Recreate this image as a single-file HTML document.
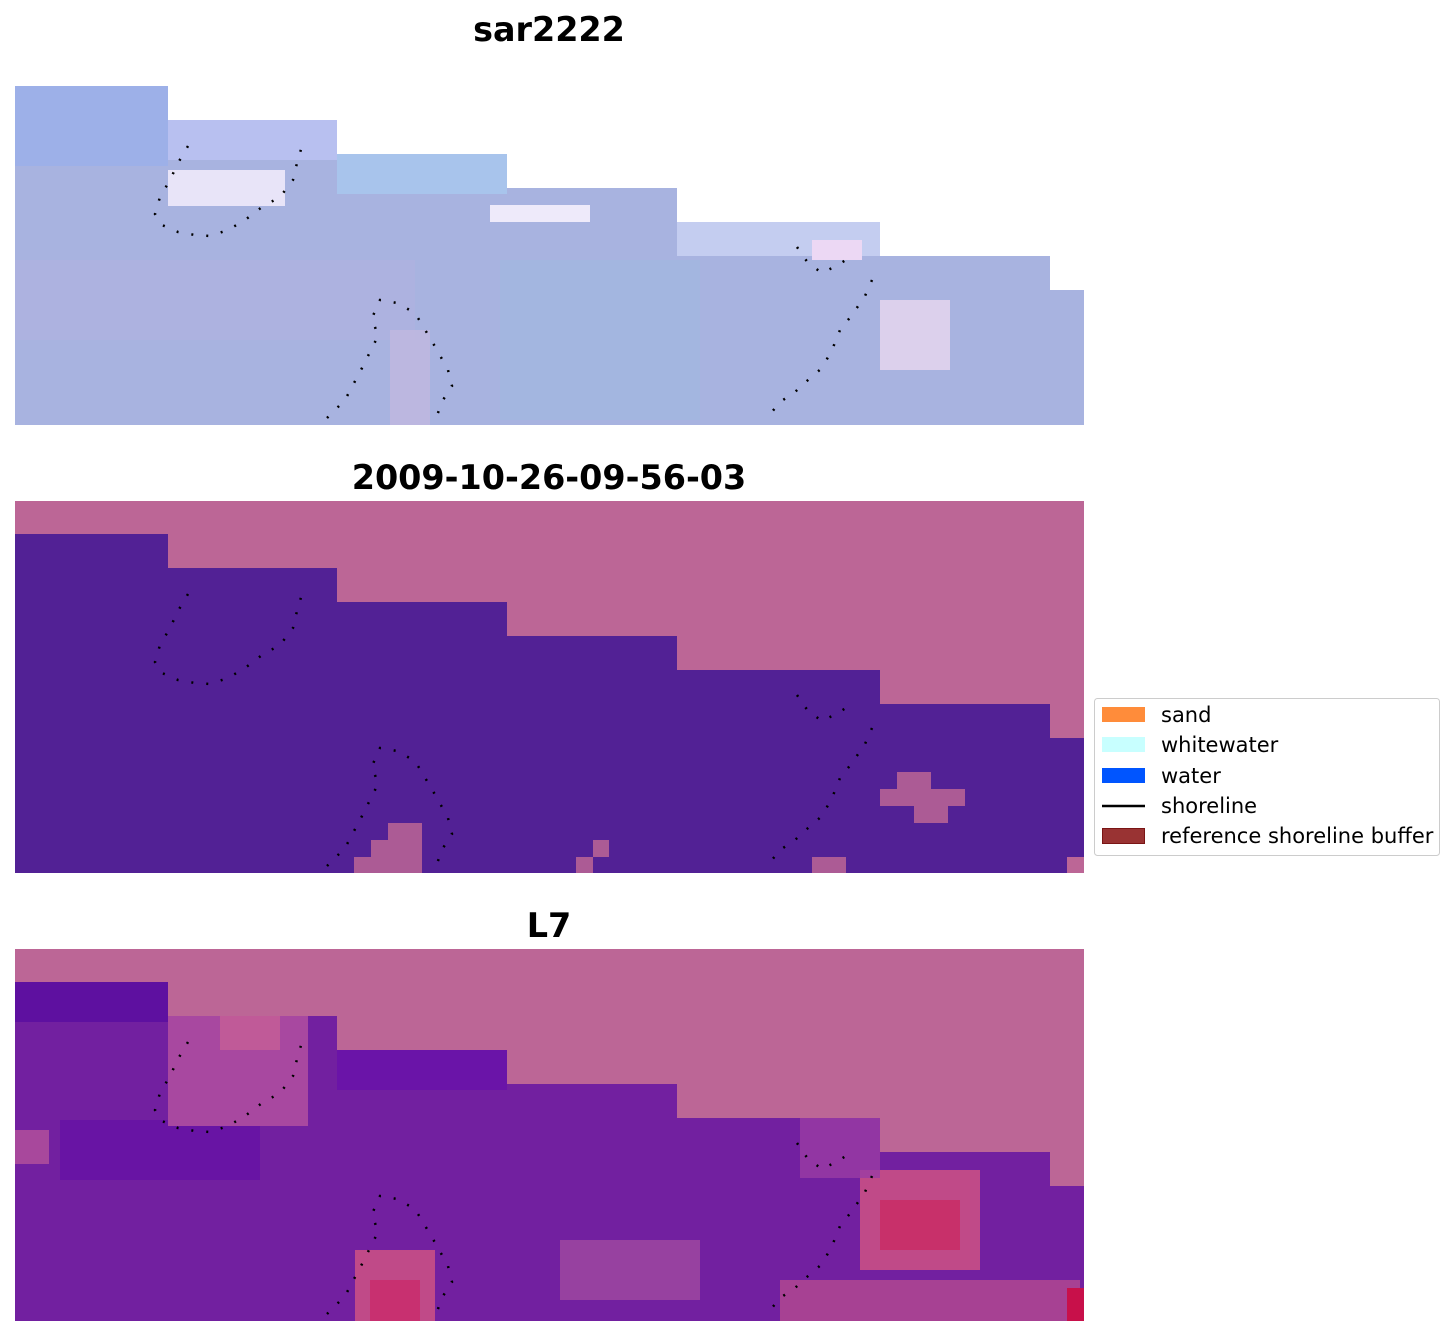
<!DOCTYPE html>
<html><head><meta charset="utf-8"><style>
html,body{margin:0;padding:0;background:#fff;}
svg{display:block;font-family:"DejaVu Sans","Liberation Sans",sans-serif;}
</style></head><body>
<svg width="1455" height="1337" viewBox="0 0 1455 1337">
<defs>
<polyline id="s1" points="188,146 178,163 170,180 160,197 155,214 162,225 178,232 195,235 210,236 228,230 245,220 262,207 280,197 293,180 297,163 302,146" fill="none" stroke="#000" stroke-width="2.5" stroke-dasharray="2 13"/>
<polyline id="s2" points="327,418 345,400 362,368 378,336 372,318 380,300 397,303 415,313 427,333 437,350 448,370 452,386 443,400 436,418" fill="none" stroke="#000" stroke-width="2.5" stroke-dasharray="2 13"/>
<polyline id="s3" points="797,247 808,263 822,273 838,265 855,254" fill="none" stroke="#000" stroke-width="2.5" stroke-dasharray="2 13"/>
<polyline id="s4" points="872,280 865,296 852,315 840,330 832,350 822,368 808,380 795,392 780,402 767,418" fill="none" stroke="#000" stroke-width="2.5" stroke-dasharray="2 13"/>
</defs>
<!-- Panel 1 -->
<text x="549" y="41" text-anchor="middle" font-size="33.4" font-weight="bold">sar2222</text>
<polygon points="15,86 168,86 168,120 337,120 337,154 507,154 507,188 677,188 677,222 880,222 880,256 1050,256 1050,290 1084,290 1084,425 15,425" fill="#a8b3e0"/>
<rect x="15" y="86" width="153" height="80" fill="#9db0e8"/>
<rect x="15" y="260" width="400" height="80" fill="#b0b0e0" opacity="0.6"/>
<rect x="500" y="260" width="200" height="160" fill="#a0b8e0" opacity="0.6"/>
<rect x="337" y="154" width="170" height="40" fill="#a8c4ec"/>
<rect x="168" y="120" width="169" height="40" fill="#b8c0f0"/>
<rect x="168" y="170" width="117" height="36" fill="#e8e4f8"/>
<rect x="490" y="205" width="100" height="17" fill="#eeeafa"/>
<rect x="677" y="222" width="203" height="34" fill="#c4cdf0"/>
<rect x="812" y="240" width="50" height="20" fill="#ecd8f4"/>
<rect x="880" y="300" width="70" height="70" fill="#dcd0ec"/>
<rect x="390" y="330" width="40" height="95" fill="#c0b8e0" opacity="0.8"/>
<use href="#s1"/><use href="#s2"/><use href="#s3"/><use href="#s4"/>
<!-- Panel 2 -->
<text x="549" y="489" text-anchor="middle" font-size="33.4" font-weight="bold">2009-10-26-09-56-03</text>
<rect x="15" y="501" width="1069" height="372" fill="#bc6696"/>
<polygon points="15,534 168,534 168,568 337,568 337,602 507,602 507,636 677,636 677,670 880,670 880,704 1050,704 1050,738 1084,738 1084,857 1067,857 1067,873 15,873" fill="#522195"/>
<g fill="#bc6696" opacity="0.85">
<rect x="388" y="823" width="34" height="50"/><rect x="371" y="840" width="17" height="33"/><rect x="354" y="857" width="17" height="16"/>
<rect x="593" y="840" width="16" height="17"/><rect x="576" y="857" width="17" height="16"/>
<rect x="812" y="857" width="34" height="16"/>
<rect x="897" y="772" width="34" height="17"/><rect x="880" y="789" width="85" height="17"/><rect x="914" y="806" width="34" height="17"/>
</g>
<g transform="translate(0,448)"><use href="#s1"/><use href="#s2"/><use href="#s3"/><use href="#s4"/></g>
<!-- Panel 3 -->
<text x="549" y="937" text-anchor="middle" font-size="33.4" font-weight="bold">L7</text>
<rect x="15" y="949" width="1069" height="372" fill="#bc6696"/>
<polygon points="15,982 168,982 168,1016 337,1016 337,1050 507,1050 507,1084 677,1084 677,1118 880,1118 880,1152 1050,1152 1050,1186 1084,1186 1084,1321 15,1321" fill="#7220a0"/>
<rect x="15" y="982" width="153" height="40" fill="#5e10a0"/>
<rect x="337" y="1050" width="170" height="40" fill="#6a14a8"/>
<rect x="60" y="1120" width="200" height="60" fill="#6814a4"/>
<rect x="168" y="1016" width="140" height="110" fill="#a848a0"/>
<rect x="220" y="1016" width="60" height="34" fill="#c05a98"/>
<rect x="15" y="1130" width="34" height="34" fill="#a8489c"/>
<rect x="860" y="1170" width="120" height="100" fill="#c04a88"/>
<rect x="880" y="1200" width="80" height="50" fill="#c8306a"/>
<rect x="355" y="1250" width="80" height="71" fill="#c04a88"/>
<rect x="370" y="1280" width="50" height="41" fill="#c83070"/>
<rect x="560" y="1240" width="140" height="60" fill="#a04aa0" opacity="0.8"/>
<rect x="780" y="1280" width="300" height="41" fill="#b44a90" opacity="0.8"/>
<rect x="1067" y="1288" width="17" height="33" fill="#c8104a"/>
<rect x="800" y="1118" width="80" height="60" fill="#9a3ca4" opacity="0.8"/>
<g transform="translate(0,896)"><use href="#s1"/><use href="#s2"/><use href="#s3"/><use href="#s4"/></g>
<!-- Legend -->
<rect x="1094.5" y="698.5" width="345" height="157" rx="3" fill="#fff" stroke="#ccc"/>
<rect x="1102" y="707" width="43" height="15" fill="#ff8c3a"/>
<rect x="1102" y="737" width="43" height="15" fill="#c8ffff"/>
<rect x="1102" y="768" width="43" height="15" fill="#0055ff"/>
<line x1="1102" y1="806" x2="1145" y2="806" stroke="#000" stroke-width="2.5"/>
<rect x="1102.5" y="828.5" width="42" height="15" fill="#993333" stroke="#7a1515"/>
<g font-size="21" fill="#000">
<text x="1161" y="722">sand</text>
<text x="1161" y="752">whitewater</text>
<text x="1161" y="783">water</text>
<text x="1161" y="813">shoreline</text>
<text x="1161" y="843">reference shoreline buffer</text>
</g>
</svg>
</body></html>
